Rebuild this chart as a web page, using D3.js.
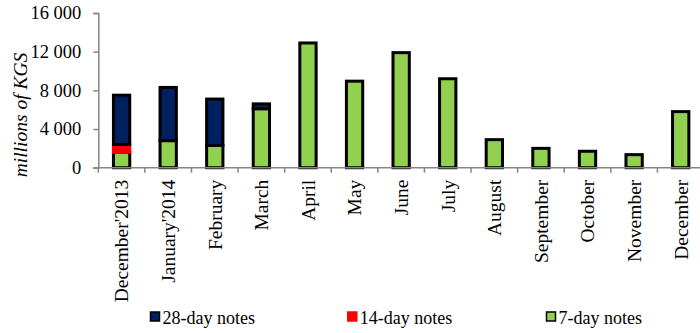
<!DOCTYPE html>
<html>
<head>
<meta charset="utf-8">
<script src="https://cdn.jsdelivr.net/npm/d3@7"></script>
<style>
  html, body { margin: 0; padding: 0; background: #fff; }
  svg { display: block; }
  svg text { font-family: "Times New Roman", "Liberation Serif", Times, "DejaVu Serif", serif !important; fill: #000; }
</style>
</head>
<body>
<svg id="chart" width="700" height="333"></svg>
<script>
const categories = ["December'2013", "January'2014", "February", "March", "April", "May", "June", "July", "August", "September", "October", "November", "December"];
const notes28 = [5100, 5500, 4800, 500, 0, 0, 0, 0, 0, 0, 0, 0, 0];
const notes14 = [800, 0, 0, 0, 0, 0, 0, 0, 0, 0, 0, 0, 0];
const notes7  = [1600, 2800, 2300, 6100, 12900, 8950, 11900, 9200, 2900, 2000, 1700, 1350, 5800];
const yTicks = [0, 4000, 8000, 12000, 16000];
const seriesNames = ["7-day notes", "14-day notes", "28-day notes"];
const seriesColors = {"7-day notes": "#92D050", "14-day notes": "#FF0000", "28-day notes": "#002060"};
const seriesStroke = {"7-day notes": "#000", "14-day notes": "#FF0000", "28-day notes": "#000"};
const legendOrder = ["28-day notes", "14-day notes", "7-day notes"];

const rows = categories.map((c, i) => ({
  cat: c,
  "7-day notes": notes7[i],
  "14-day notes": notes14[i],
  "28-day notes": notes28[i]
}));

const svg = d3.select("#chart");
const x0 = 98.3, x1 = 704, yBottom = 167.7, yTop = 13;

const x = d3.scaleBand().domain(categories).range([x0, x1]).padding(0);
const y = d3.scaleLinear().domain([0, 16000]).range([yBottom, yTop]);

const stack = d3.stack().keys(seriesNames);
const stacked = stack(rows);

const barW = x.step() * 0.35;
const g = svg.append("g");
stacked.forEach(layer => {
  g.selectAll(null)
    .data(layer.filter(d => d[1] - d[0] > 0))
    .enter().append("rect")
    .attr("x", d => x(d.data.cat) + x.step() / 2 - barW / 2)
    .attr("y", d => y(d[1]))
    .attr("width", barW)
    .attr("height", d => y(d[0]) - y(d[1]))
    .attr("fill", seriesColors[layer.key])
    .attr("stroke", seriesStroke[layer.key])
    .attr("stroke-width", 3);
});

// Y axis
const yAxis = svg.append("g")
  .attr("transform", `translate(${x0},0)`)
  .call(d3.axisLeft(y).tickValues(yTicks).tickSize(5).tickPadding(12)
    .tickFormat(d => d3.format(",")(d).replace(",", " ")));
yAxis.attr("font-family", null);
yAxis.select(".domain").attr("stroke", "#868686").attr("stroke-width", 1.5);
yAxis.selectAll(".tick line").attr("stroke", "#868686").attr("stroke-width", 1.5);
yAxis.selectAll(".tick text")
  .style("font-size", "18.5px").attr("fill", "#000");

// X axis
const xAxis = svg.append("g")
  .attr("transform", `translate(0,${yBottom})`)
  .call(d3.axisBottom(x).tickSize(0).tickSizeOuter(0));
xAxis.attr("font-family", null);
xAxis.select(".domain").attr("stroke", "#868686").attr("stroke-width", 1.5)
  .attr("d", `M${x0 - 5},0H${x1}`);
xAxis.selectAll(".tick line").remove();
xAxis.selectAll(".tick text")
  .style("font-size", "19.5px").attr("fill", "#000")
  .attr("text-anchor", "end")
  .attr("transform", "rotate(-90)")
  .attr("x", -12)
  .attr("y", 0)
  .attr("dy", "0.35em");
// boundary ticks
svg.append("g").selectAll("line")
  .data(categories.map((c, i) => i).concat([categories.length]))
  .enter().append("line")
  .attr("x1", i => x0 + i * x.step())
  .attr("x2", i => x0 + i * x.step())
  .attr("y1", yBottom)
  .attr("y2", yBottom + 5)
  .attr("stroke", "#868686").attr("stroke-width", 1.5);

// Y axis title
svg.append("text")
  .attr("transform", "translate(27,115) rotate(-90)")
  .attr("text-anchor", "middle")
  .style("font-size", "19.5px")
  .style("font-style", "italic")
  .text("millions of KGS");

// Legend
const legendPos = [150, 347.3, 546];
const leg = svg.append("g");
legendOrder.forEach((k, i) => {
  const lg = leg.append("g").attr("transform", `translate(${legendPos[i]},0)`);
  lg.append("rect").attr("x", 0.5).attr("y", 312).attr("width", 9).attr("height", 9)
    .attr("fill", seriesColors[k])
    .attr("stroke", seriesStroke[k]).attr("stroke-width", 1.5);
  lg.append("text").attr("x", 12.5).attr("y", 324).style("font-size", "18px").text(k);
});
</script>
</body>
</html>
